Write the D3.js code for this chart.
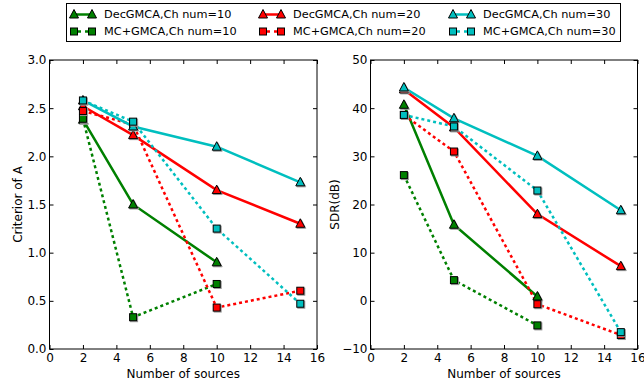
<!DOCTYPE html>
<html>
<head>
<meta charset="utf-8">
<script src="https://cdn.jsdelivr.net/npm/d3@7"></script>
<style>
  body { margin: 0; background: #fff; }
  svg { font-family: "DejaVu Sans", sans-serif; }
</style>
</head>
<body>
<script>
// x positions (number of sources)
const sources = [2, 5, 10, 15];

// left panel: criterion of A
const critDec10 = [2.38, 1.50, 0.90];
const critMC10  = [2.39, 0.33, 0.675];
const critDec20 = [2.52, 2.22, 1.65, 1.30];
const critMC20  = [2.47, 2.33, 0.43, 0.605];
const critDec30 = [2.58, 2.31, 2.10, 1.73];
const critMC30  = [2.58, 2.36, 1.25, 0.47];

// right panel: SDR (dB)
const sdrDec10 = [40.7, 15.8, 0.9];
const sdrMC10  = [26.1, 4.3, -5.1];
const sdrDec20 = [43.9, 36.0, 18.0, 7.2];
const sdrMC20  = [38.6, 31.0, -0.7, -7.1];
const sdrDec30 = [44.3, 37.9, 30.1, 18.8];
const sdrMC30  = [38.6, 36.2, 22.9, -6.5];

const seriesNames = ["DecGMCA,Ch num=10", "MC+GMCA,Ch num=10",
                     "DecGMCA,Ch num=20", "MC+GMCA,Ch num=20",
                     "DecGMCA,Ch num=30", "MC+GMCA,Ch num=30"];
const seriesColors = ["#008000", "#008000", "#ff0000", "#ff0000", "#00bfbf", "#00bfbf"];
const seriesKind = ["dec", "mc", "dec", "mc", "dec", "mc"];

const xTicks = [0, 2, 4, 6, 8, 10, 12, 14, 16];
const critTicks = [0.0, 0.5, 1.0, 1.5, 2.0, 2.5, 3.0];
const sdrTicks = [-10, 0, 10, 20, 30, 40, 50];

const W = 644, H = 385;
const svg = d3.select("body").append("svg").attr("width", W).attr("height", H);

const plotTop = 60, plotBottom = 349;

function drawMarker(g, cx, cy, kind, color, shadow) {
  if (kind === "dec") {
    const tri = (dx, dy) => `M${cx + dx},${cy - 5 + dy}L${cx + 4.5 + dx},${cy + 3.5 + dy}L${cx - 4.5 + dx},${cy + 3.5 + dy}Z`;
    if (shadow) g.append("path").attr("d", tri(1, 1)).attr("fill", "#999").attr("stroke", "#999").attr("stroke-width", 1);
    g.append("path").attr("d", tri(0, 0)).attr("fill", color).attr("stroke", "#000").attr("stroke-width", 1);
  } else {
    if (shadow) g.append("rect").attr("x", cx - 3.5 + 1).attr("y", cy - 3.5 + 1)
      .attr("width", 7).attr("height", 7).attr("fill", "#999").attr("stroke", "#999");
    g.append("rect").attr("x", cx - 3.5).attr("y", cy - 3.5)
      .attr("width", 7).attr("height", 7).attr("fill", color).attr("stroke", "#000").attr("stroke-width", 1);
  }
}

function drawPanel(left, right, yDomain, yTicks, yFmt, yLabel, yLabelX, data) {
  const x = d3.scaleLinear().domain([0, 16]).range([left, right]);
  const y = d3.scaleLinear().domain(yDomain).range([plotBottom, plotTop]);
  const g = svg.append("g");

  // lines
  data.forEach((vals, i) => {
    const pts = vals.map((v, j) => [sources[j], v]);
    g.append("path")
      .datum(pts)
      .attr("fill", "none")
      .attr("stroke", seriesColors[i])
      .attr("stroke-width", 2.5)
      .attr("stroke-dasharray", seriesKind[i] === "mc" ? "3,3" : null)
      .attr("d", d3.line().x(d => x(d[0])).y(d => y(d[1])));
  });
  // markers
  data.forEach((vals, i) => {
    vals.forEach((v, j) => {
      drawMarker(g, x(sources[j]), y(v), seriesKind[i], seriesColors[i], true);
    });
  });

  // frame
  g.append("rect").attr("x", left).attr("y", plotTop)
    .attr("width", right - left).attr("height", plotBottom - plotTop)
    .attr("fill", "none").attr("stroke", "#000").attr("stroke-width", 1);

  // axes, ticks pointing inward
  const xb = g.append("g").attr("transform", `translate(0,${plotBottom})`)
    .call(d3.axisBottom(x).tickValues(xTicks).tickSize(-4).tickPadding(6).tickFormat(d3.format("d")));
  const xt = g.append("g").attr("transform", `translate(0,${plotTop})`)
    .call(d3.axisTop(x).tickValues(xTicks).tickSize(-4).tickFormat(""));
  const yl = g.append("g").attr("transform", `translate(${left},0)`)
    .call(d3.axisLeft(y).tickValues(yTicks).tickSize(-4).tickPadding(3).tickFormat(yFmt));
  const yr = g.append("g").attr("transform", `translate(${right},0)`)
    .call(d3.axisRight(y).tickValues(yTicks).tickSize(-4).tickFormat(""));
  [xb, xt, yl, yr].forEach(a => {
    a.select(".domain").remove();
    a.selectAll("text").attr("font-size", 12).attr("fill", "#000")
      .style("font-family", "DejaVu Sans, sans-serif");
  });
  xb.selectAll("text").attr("dy", "0.6em");

  g.append("text")
    .attr("x", (left + right) / 2).attr("y", 378)
    .attr("text-anchor", "middle").attr("font-size", 12)
    .text("Number of sources");
  g.append("text")
    .attr("transform", `translate(${yLabelX},${(plotTop + plotBottom) / 2}) rotate(-90)`)
    .attr("text-anchor", "middle").attr("font-size", 12)
    .text(yLabel);
}

drawPanel(49.5, 317, [0, 3], critTicks, d3.format(".1f"), "Criterior of A", 22,
  [critDec10, critMC10, critDec20, critMC20, critDec30, critMC30]);
drawPanel(370.5, 637.5, [-10, 50], sdrTicks, d => d < 0 ? "\u2212" + Math.abs(d) : d, "SDR(dB)", 339,
  [sdrDec10, sdrMC10, sdrDec20, sdrMC20, sdrDec30, sdrMC30]);

// legend
const legend = svg.append("g");
legend.append("rect").attr("x", 66.5).attr("y", 3.5).attr("width", 554).attr("height", 38)
  .attr("fill", "#fff").attr("stroke", "#000").attr("stroke-width", 1);
const colX = [71, 260, 450];
const rowY = [14.5, 31.5];
seriesNames.forEach((name, i) => {
  const cx = colX[Math.floor(i / 2)];
  const cy = rowY[i % 2];
  legend.append("line").attr("x1", cx + 3).attr("x2", cx + 21).attr("y1", cy).attr("y2", cy)
    .attr("stroke", seriesColors[i]).attr("stroke-width", 2.5)
    .attr("stroke-dasharray", seriesKind[i] === "mc" ? "4,4" : null)
    .attr("stroke-dashoffset", seriesKind[i] === "mc" ? -3 : 0);
  drawMarker(legend, cx + 3, cy, seriesKind[i], seriesColors[i], false);
  drawMarker(legend, cx + 21, cy, seriesKind[i], seriesColors[i], false);
  legend.append("text").attr("x", cx + 33).attr("y", cy).attr("dy", "0.35em")
    .attr("font-size", 11.3).text(name);
});
</script>
</body>
</html>
